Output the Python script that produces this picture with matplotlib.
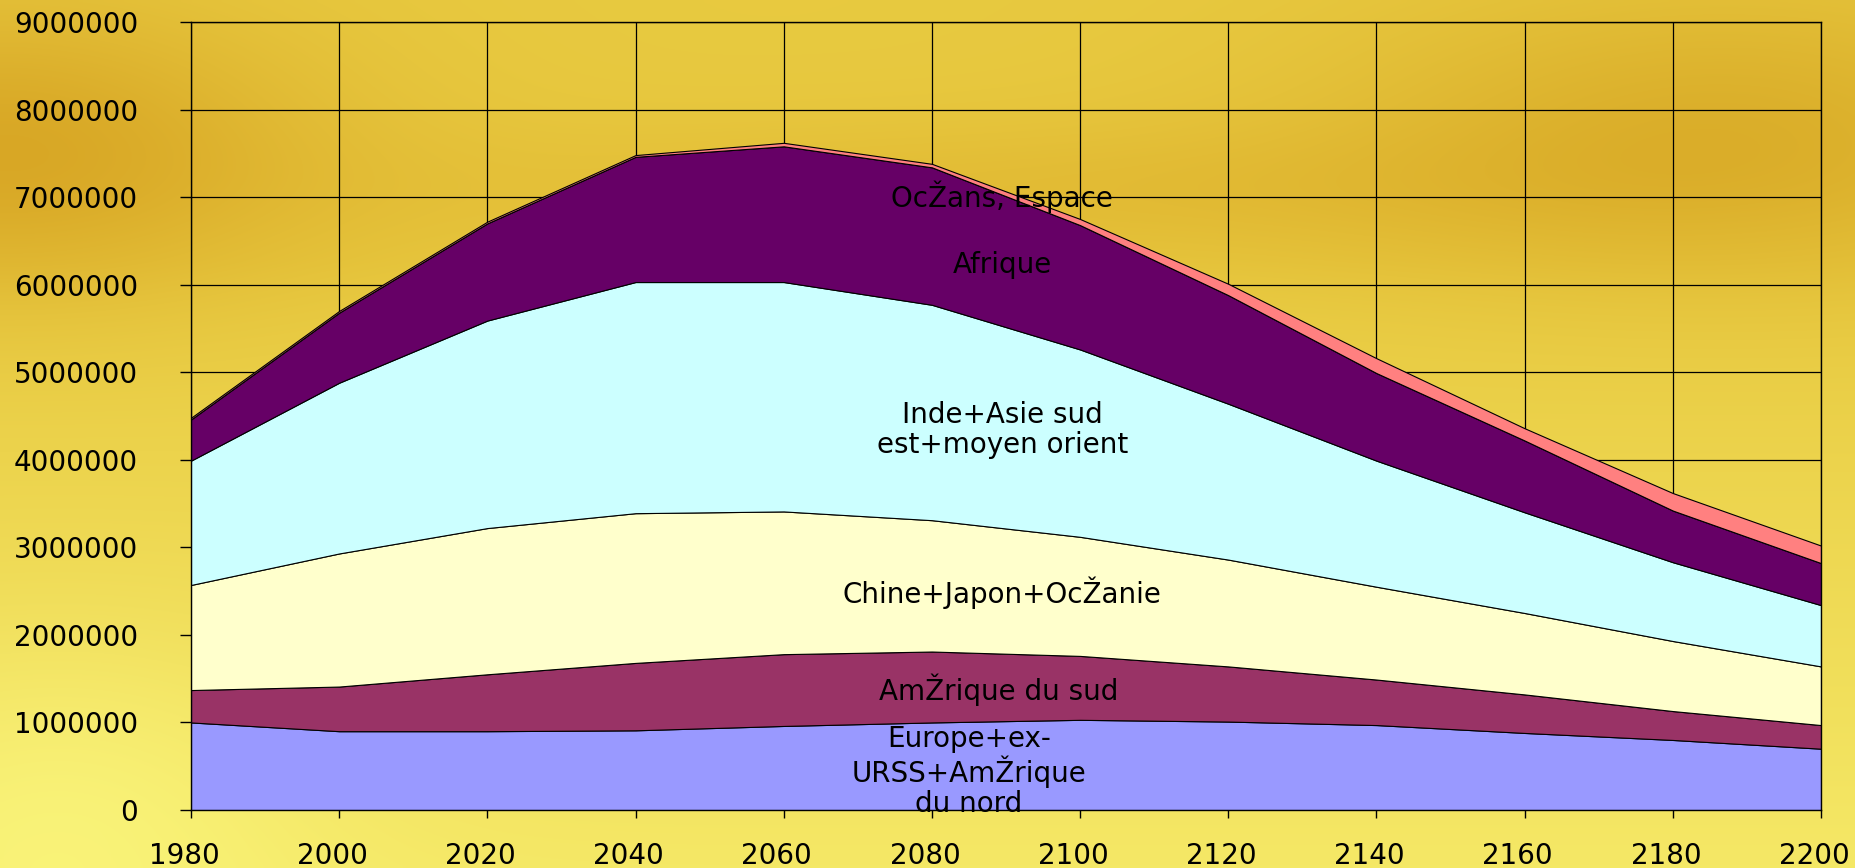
import matplotlib
matplotlib.use("Agg")
import matplotlib.pyplot as plt
import matplotlib.transforms as mtransforms
from matplotlib.ticker import FuncFormatter
import numpy as np

# population par region (milliers)
years = [1980, 2000, 2020, 2040, 2060, 2080, 2100, 2120, 2140, 2160, 2180, 2200]
europe_amn = [1000000, 900000, 900000, 910000, 960000, 1000000, 1030000, 1010000, 970000, 880000, 800000, 700000]
amerique_sud = [370000, 510000, 650000, 770000, 820000, 810000, 730000, 630000, 520000, 440000, 330000, 270000]
chine_japon = [1200000, 1520000, 1670000, 1710000, 1630000, 1500000, 1360000, 1220000, 1060000, 930000, 800000, 670000]
inde_asie = [1420000, 1950000, 2370000, 2640000, 2620000, 2460000, 2140000, 1780000, 1440000, 1150000, 900000, 700000]
afrique = [470000, 800000, 1110000, 1430000, 1550000, 1570000, 1420000, 1240000, 1000000, 820000, 590000, 480000]
oceans = [20000, 20000, 20000, 20000, 40000, 40000, 70000, 130000, 170000, 140000, 200000, 200000]

colors = ['#9999FF', '#993366', '#FFFFCC', '#CCFFFF', '#660066', '#FF8080']

plt.rcParams['font.family'] = ['DejaVu Sans']

fig = plt.figure(figsize=(18.56, 8.68), dpi=100)

# fond dore
bg = fig.add_axes([0, 0, 1, 1], zorder=-10)
h, w = 217, 464
yy, xx = np.mgrid[0:1:h * 1j, 0:1:w * 1j]
top = np.array([0.91, 0.79, 0.25])
bot = np.array([0.96, 0.91, 0.40])
t = np.clip((yy - 0.3) / 0.7, 0, 1)[..., None]
img = top * (1 - t) + bot * t

def blob(cx, cy, sx, sy):
    return np.exp(-((xx - cx) ** 2 / (2 * sx ** 2) + (yy - cy) ** 2 / (2 * sy ** 2)))[..., None]

img = img + blob(0.0, 0.17, 0.12, 0.12) * np.array([-0.06, -0.13, -0.10])
img = img + blob(0.93, 0.15, 0.15, 0.12) * np.array([-0.05, -0.10, -0.08])
img = img + blob(0.55, 0.22, 0.25, 0.06) * np.array([-0.02, -0.05, -0.04])
img = img + blob(0.03, 0.92, 0.10, 0.15) * np.array([0.02, 0.05, 0.08])
img = np.clip(img, 0, 1)
bg.imshow(img, aspect='auto', interpolation='bilinear', extent=[0, 1, 0, 1])
bg.axis('off')

ax = fig.add_axes([191 / 1856, 58 / 868, 1630 / 1856, 788 / 868])
ax.set_facecolor('none')

ax.stackplot(years, europe_amn, amerique_sud, chine_japon, inde_asie, afrique, oceans,
             colors=colors, edgecolor='black', linewidth=0.8)

ax.set_xlim(1980, 2200)
ax.set_ylim(0, 9000000)
ax.set_xticks(years)
ax.set_yticks(range(0, 9000001, 1000000))
ax.yaxis.set_major_formatter(FuncFormatter(lambda v, p: f'{v:.0f}'))

ax.set_axisbelow(True)
ax.grid(True, color='black', linewidth=0.9)
for s in ax.spines.values():
    s.set_color('black')
    s.set_linewidth(1.0)

ax.tick_params(axis='y', direction='out', length=8, width=1, pad=30, labelsize=20)
ax.tick_params(axis='x', direction='out', length=6, width=1, pad=17, labelsize=20)

# decalage des etiquettes de l'axe x vers la gauche
offset = mtransforms.ScaledTranslation(-7 / 100, 0, fig.dpi_scale_trans)
for lab in ax.get_xticklabels():
    lab.set_transform(lab.get_transform() + offset)

labels = [
    ('OcŽans, Espace', 2089.5, 7000000),
    ('Afrique', 2089.5, 6230000),
    ('Inde+Asie sud\nest+moyen orient', 2089.5, 4340000),
    ('Chine+Japon+OcŽanie', 2089.5, 2480000),
    ('AmŽrique du sud', 2089, 1370000),
    ('Europe+ex-\nURSS+AmŽrique\ndu nord', 2085, 440000),
]
for txt, x, y in labels:
    ax.text(x, y, txt, ha='center', va='center', fontsize=20, color='black',
            linespacing=1.1, zorder=10, clip_on=False)

fig.savefig('out.png', dpi=100)
plt.close(fig)
